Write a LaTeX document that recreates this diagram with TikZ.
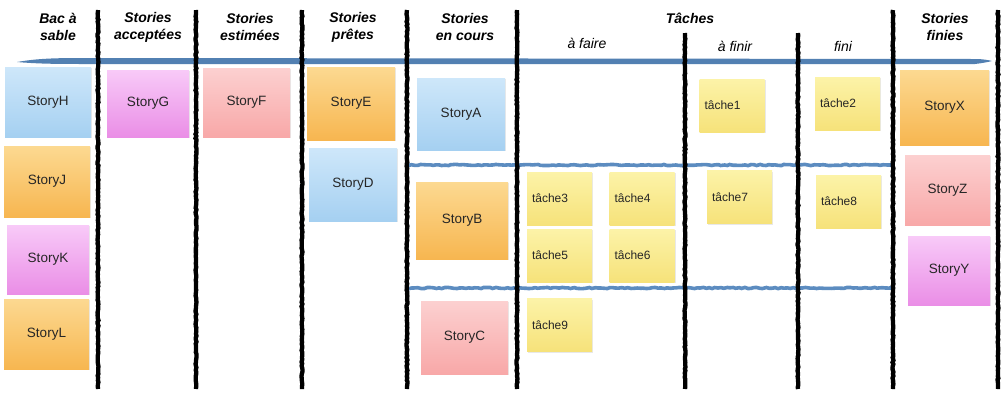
\documentclass[tikz,border=0pt]{standalone}
\usepackage{fontspec}
\setmainfont{Liberation Sans}
\usetikzlibrary{shadows,decorations.pathmorphing}
\definecolor{bluetop}{RGB}{206,231,250}
\definecolor{bluebot}{RGB}{165,208,241}
\definecolor{orangetop}{RGB}{252,217,145}
\definecolor{orangebot}{RGB}{247,182,80}
\definecolor{pinktop}{RGB}{252,208,208}
\definecolor{pinkbot}{RGB}{248,168,168}
\definecolor{magtop}{RGB}{248,202,248}
\definecolor{magbot}{RGB}{234,142,230}
\definecolor{yellowtop}{RGB}{252,243,168}
\definecolor{yellowbot}{RGB}{246,226,122}
\definecolor{barblue}{RGB}{82,128,178}
\definecolor{wavyblue}{RGB}{92,140,192}
\begin{document}
\begin{tikzpicture}[x=1pt,y=-1pt,
  note/.style={inner sep=0pt, drop shadow={opacity=0.18,shadow xshift=1pt,shadow yshift=-1pt},
     font=\fontsize{13.5}{15}\selectfont, text=black!85},
  bluenote/.style={note, top color=bluetop, bottom color=bluebot},
  orangenote/.style={note, top color=orangetop, bottom color=orangebot},
  pinknote/.style={note, top color=pinktop, bottom color=pinkbot},
  magnote/.style={note, top color=magtop, bottom color=magbot},
  tasknote/.style={note, top color=yellowtop, bottom color=yellowbot,
     minimum width=65pt, minimum height=53pt, text width=55pt, inner xsep=5pt, align=left,
     font=\fontsize{12}{14}\selectfont},
  head/.style={font=\fontsize{14}{17}\selectfont\bfseries\itshape, align=center, inner sep=0pt},
  subhead/.style={font=\fontsize{14}{17}\selectfont\itshape, inner sep=0pt},
  sep/.style={line width=4.3pt, black, decorate, decoration={random steps, segment length=2pt, amplitude=0.5pt}},
  wavy/.style={line width=3.6pt, wavyblue, decorate, decoration={random steps, segment length=3pt, amplitude=0.6pt}}
]
\useasboundingbox (0,0) rectangle (1006,400);

% main blue bar
\fill[barblue] (17,62) .. controls (40,58) and (60,58) .. (90,58) -- (975,59)
  .. controls (983,59) and (988,60) .. (992,61) .. controls (988,62) and (983,63) .. (975,64)
  -- (90,64) .. controls (60,64) and (40,64) .. (17,62) -- cycle;

% wavy row separators
\coordinate (w1a) at (406,165); \coordinate (w1b) at (893,165);
\coordinate (w2a) at (406,288); \coordinate (w2b) at (893,288);
\draw[wavy] (w1a) -- (w1b);
\draw[wavy] (w2a) -- (w2b);

% column separators
\foreach \n/\xx in {s1/98,s2/196,s3/302,s4/407,s5/517,s6/893,s7/998}{
  \coordinate (\n t) at (\xx,10); \coordinate (\n b) at (\xx,389);
  \draw[sep] (\n t) -- (\n b);
}
\foreach \n/\xx in {s8/685,s9/798}{
  \coordinate (\n t) at (\xx,33); \coordinate (\n b) at (\xx,389);
  \draw[sep] (\n t) -- (\n b);
}

% headers
\node[head] (h1) at (58,27) {Bac à\\sable};
\node[head] (h2) at (148,27) {Stories\\acceptées};
\node[head] (h3) at (250,27) {Stories\\estimées};
\node[head] (h4) at (353,27) {Stories\\prêtes};
\node[head] (h5) at (465,27) {Stories\\en cours};
\node[head] (h6) at (690,18) {Tâches};
\node[head] (h7) at (945,27) {Stories\\finies};
\node[subhead] (h8) at (587,43) {à faire};
\node[subhead] (h9) at (735,46) {à finir};
\node[subhead] (h10) at (843,46) {fini};

% stories
\node[bluenote, minimum width=86pt, minimum height=70pt] (H) at (48,102) {StoryH};
\node[magnote, minimum width=82pt, minimum height=67pt] (G) at (148,103.5) {StoryG};
\node[pinknote, minimum width=87pt, minimum height=69pt] (F) at (246.5,102.5) {StoryF};
\node[orangenote, minimum width=88pt, minimum height=73pt] (E) at (351,103.5) {StoryE};
\node[bluenote, minimum width=88pt, minimum height=72pt] (A) at (461,114) {StoryA};
\node[orangenote, minimum width=89pt, minimum height=75pt] (X) at (944.5,107.5) {StoryX};
\node[orangenote, minimum width=86pt, minimum height=71pt] (J) at (47,181.5) {StoryJ};
\node[bluenote, minimum width=88pt, minimum height=73pt] (D) at (353,184.5) {StoryD};
\node[orangenote, minimum width=92pt, minimum height=77pt] (B) at (462,220.5) {StoryB};
\node[pinknote, minimum width=85pt, minimum height=70pt] (Z) at (947.5,190) {StoryZ};
\node[magnote, minimum width=82pt, minimum height=69pt] (K) at (48,259.5) {StoryK};
\node[magnote, minimum width=82pt, minimum height=69pt] (Y) at (949,270.5) {StoryY};
\node[orangenote, minimum width=85pt, minimum height=70pt] (L) at (46.5,334) {StoryL};
\node[pinknote, minimum width=87pt, minimum height=73pt] (C) at (464.5,337.5) {StoryC};

% tasks
\node[tasknote] (t1) at (732,105.5) {tâche1};
\node[tasknote] (t2) at (847.5,103.5) {tâche2};
\node[tasknote] (t3) at (559.5,198.5) {tâche3};
\node[tasknote] (t4) at (642,198.5) {tâche4};
\node[tasknote] (t7) at (739.5,197) {tâche7};
\node[tasknote] (t8) at (848.5,201.5) {tâche8};
\node[tasknote] (t5) at (559.5,255.5) {tâche5};
\node[tasknote] (t6) at (642,255.5) {tâche6};
\node[tasknote] (t9) at (559.5,325) {tâche9};
\end{tikzpicture}
\end{document}
